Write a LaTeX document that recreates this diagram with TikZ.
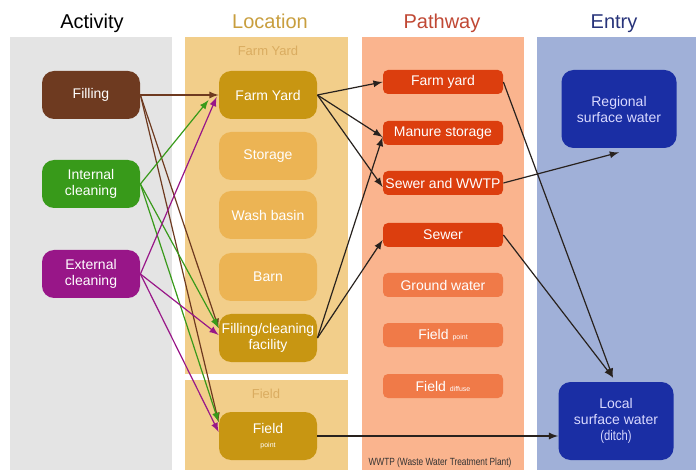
\documentclass[tikz,border=0pt]{standalone}
\usepackage{fontspec}
\setmainfont{Liberation Sans}
\newfontfamily\narrowfont[FakeStretch=0.8]{Liberation Sans}
\usetikzlibrary{arrows}

\definecolor{actbg}{RGB}{228,228,228}
\definecolor{locbg}{RGB}{242,206,138}
\definecolor{pwbg}{RGB}{250,180,142}
\definecolor{entbg}{RGB}{160,176,216}
\definecolor{fillbrown}{RGB}{110,58,32}
\definecolor{intgreen}{RGB}{56,154,26}
\definecolor{extpurple}{RGB}{152,22,136}
\definecolor{locdark}{RGB}{200,150,18}
\definecolor{loclight}{RGB}{236,180,84}
\definecolor{loclabel}{RGB}{218,172,96}
\definecolor{pwdark}{RGB}{220,62,14}
\definecolor{pwlight}{RGB}{240,122,72}
\definecolor{entdark}{RGB}{26,46,164}
\definecolor{hdloc}{RGB}{200,158,62}
\definecolor{hdpw}{RGB}{192,72,52}
\definecolor{hdent}{RGB}{40,52,122}
\definecolor{edgedark}{RGB}{40,34,30}

\begin{document}
\begin{tikzpicture}[x=0.5pt,y=-0.5pt]
    \tikzset{header/.style = {anchor=base, font=\fontsize{10}{12}\selectfont}}
    \tikzset{box/.style = {rounded corners=6pt, minimum width=49pt, minimum height=24pt, inner sep=1pt, align=center, text=white, font=\fontsize{7}{8}\selectfont}}
    \tikzset{pwbox/.style = {box, rounded corners=2.5pt, minimum width=60pt, minimum height=12pt}}
    \tikzset{entbox/.style = {box, fill=entdark, text=white!85!blue, minimum width=57.5pt, minimum height=39pt}}
    \tikzset{flow/.style = {-latex, line width=0.6pt}}
    \useasboundingbox (0,0) rectangle (696,470);
    % columns
    \fill[actbg] (10,37) rectangle (172,470);
    \fill[locbg] (185,37) rectangle (348,374);
    \fill[locbg] (185,380) rectangle (348,470);
    \fill[pwbg] (362,37) rectangle (524,470);
    \fill[entbg] (537,37) rectangle (696,470);
    \node[header] (hact) at (92,29) {Activity};
    \node[header, text=hdloc] (hloc) at (270,29) {Location};
    \node[header, text=hdpw] (hpw) at (442,29) {Pathway};
    \node[header, text=hdent] (hent) at (614,29) {Entry};
    \node[text=loclabel, font=\fontsize{6.5}{7}\selectfont] (lyard) at (268,51) {Farm Yard};
    \node[text=loclabel, font=\fontsize{6.5}{7}\selectfont] (lfield) at (266,394) {Field};
    % activity
    \node[box, fill=fillbrown] (filling) at (91,95) {Filling};
    \node[box, fill=intgreen] (intern) at (91,184) {Internal\\cleaning};
    \node[box, fill=extpurple] (extern) at (91,274) {External\\cleaning};
    % location
    \node[box, fill=locdark] (fyard) at (268,95) {Farm Yard};
    \node[box, fill=loclight] (storage) at (268,156) {Storage};
    \node[box, fill=loclight] (wash) at (268,215) {Wash basin};
    \node[box, fill=loclight] (barn) at (268,277) {Barn};
    \node[box, fill=locdark] (facility) at (268,338) {Filling/cleaning\\facility};
    \node[box, fill=locdark] (fieldp) at (268,436) {Field\\[-1pt]{\fontsize{3.5}{4}\selectfont point}};
    % pathway
    \node[pwbox, fill=pwdark] (pfarm) at (443,82) {Farm yard};
    \node[pwbox, fill=pwdark] (pmanure) at (443,133) {Manure storage};
    \node[pwbox, fill=pwdark] (pwwtp) at (443,183) {Sewer and WWTP};
    \node[pwbox, fill=pwdark] (psewer) at (443,235) {Sewer};
    \node[pwbox, fill=pwlight] (pground) at (443,285) {Ground water};
    \node[pwbox, fill=pwlight] (ppoint) at (443,335) {Field {\fontsize{3.5}{4}\selectfont point}};
    \node[pwbox, fill=pwlight] (pdiffuse) at (443,386) {Field {\fontsize{3.5}{4}\selectfont diffuse}};
    % entry
    \node[entbox] (regional) at (619,109) {Regional\\surface water};
    \node[entbox] (local) at (616,421) {Local\\surface water\\{\narrowfont\fontsize{7}{8}\selectfont (ditch)}};
    \node[text=black!80, font=\narrowfont\fontsize{5.2}{6}\selectfont] (note) at (440,463) {WWTP (Waste Water Treatment Plant)};
    % activity to location
    \draw[flow, fillbrown] (filling.east) to (fyard.west);
    \draw[flow, fillbrown] (filling.east) to ([yshift=5pt]facility.west);
    \draw[flow, fillbrown] (filling.east) to ([yshift=7pt]fieldp.west);
    \draw[flow, intgreen] (intern.east) to ([shift={(-5pt,-2.5pt)}]fyard.west);
    \draw[flow, intgreen] (intern.east) to ([yshift=5pt]facility.west);
    \draw[flow, intgreen] (intern.east) to ([yshift=7pt]fieldp.west);
    \draw[flow, extpurple] (extern.east) to ([shift={(-1pt,-1pt)}]fyard.west);
    \draw[flow, extpurple] (extern.east) to ([yshift=1.5pt]facility.west);
    \draw[flow, extpurple] (extern.east) to ([yshift=2pt]fieldp.west);
    % location to pathway
    \draw[flow, edgedark] (fyard.east) to (pfarm.west);
    \draw[flow, edgedark] (fyard.east) to ([yshift=-2pt]pmanure.west);
    \draw[flow, edgedark] (fyard.east) to ([yshift=-2pt]pwwtp.west);
    \draw[flow, edgedark] (facility.east) to ([yshift=-2pt]pmanure.west);
    \draw[flow, edgedark] (facility.east) to ([yshift=-2.5pt]psewer.west);
    % pathway to entry
    \draw[flow, edgedark] (pfarm.east) to ([xshift=-1.5pt, yshift=2pt]local.north);
    \draw[flow, edgedark] (psewer.east) to ([xshift=-1.5pt, yshift=2pt]local.north);
    \draw[flow, edgedark] (pwwtp.east) to ([yshift=-2pt]regional.south);
    \draw[flow, edgedark] (fieldp.east) to (fieldp.east -| local.west);
\end{tikzpicture}
\end{document}
